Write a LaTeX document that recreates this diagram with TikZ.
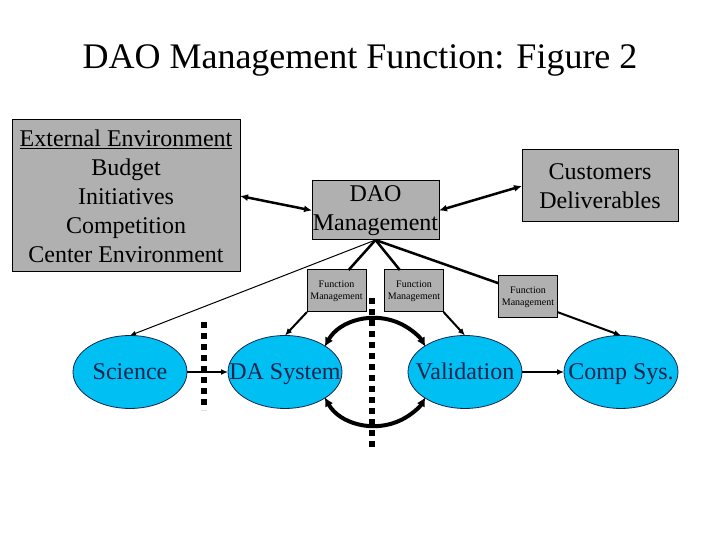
\documentclass[tikz,border=0pt]{standalone}
\usepackage{fontspec}
\setmainfont{Liberation Serif}
\usetikzlibrary{arrows.meta,calc,shapes.geometric}
\definecolor{boxgray}{HTML}{B0B0B0}
\definecolor{ellcyan}{HTML}{00BFF3}
\definecolor{elltext}{HTML}{17244E}
\begin{document}
\begin{tikzpicture}[x=1pt,y=1pt,
 graybox/.style={draw=black, line width=1pt, fill=boxgray, inner sep=0pt, outer sep=0pt, align=center, font=\fontsize{24}{29}\selectfont},
 fmbox/.style={graybox, font=\fontsize{10}{12}\selectfont, minimum width=59pt, minimum height=42pt},
 ellnode/.style={ellipse, draw=elltext, line width=0.8pt, fill=ellcyan, minimum width=114pt, minimum height=73pt, inner sep=0pt, outer sep=0pt},
 elltxt/.style={text=elltext, font=\fontsize{24}{29}\selectfont, inner sep=0pt, text height=20pt, text depth=4pt},
 fanline/.style={line width=2.5pt},
 arr/.style={line width=2pt, -{Latex[length=7pt,width=6pt]}},
 thinarr/.style={line width=1pt, -{Latex[length=6pt,width=5pt]}},
 dblarr/.style={line width=2.5pt, {Latex[length=8pt,width=7pt]}-{Latex[length=8pt,width=7pt]}},
 cycarr/.style={line width=4pt, {Latex[length=9pt,width=9pt]}-{Latex[length=9pt,width=9pt]}},
 dotline/.style={line width=5.5pt, dash pattern=on 6pt off 5pt}]

\useasboundingbox (0,0) rectangle (720,540);

\node[anchor=base, font=\fontsize{36}{40}\selectfont] (title) at (360,471) {DAO Management Function: Figure 2};

\node[graybox, minimum width=228pt, minimum height=152pt] (ext) at (126,344)
  {\underline{External Environment}\\Budget\\Initiatives\\Competition\\Center Environment};
\node[graybox, minimum width=127pt, minimum height=59pt] (dao) at (375.5,329.5) {DAO\\Management};
\node[graybox, minimum width=156pt, minimum height=72pt] (cust) at (600,354) {Customers\\Deliverables};

\node[fmbox] (fm1) at (336.5,249) {Function\\Management};
\node[fmbox] (fm2) at (414,249) {Function\\Management};
\node[fmbox] (fm3) at (528,243) {Function\\Management};

\node[ellnode, label={[elltxt]center:Science}] (sci) at (130,168) {};
\node[ellnode, label={[elltxt]center:DA System}] (das) at (285,168) {};
\node[ellnode, label={[elltxt]center:Validation}] (val) at (465,168) {};
\node[ellnode, label={[elltxt]center:Comp Sys.}] (comp) at (621,168) {};

\draw[dblarr] (ext.east) -- (dao.west);
\draw[dblarr] (dao.east) -- (cust.west);

\draw[fanline] (dao.south) -- (fm1.60);
\draw[fanline] (dao.south) -- (fm2.124);
\draw[fanline] (dao.south) -- (fm3.155);
\draw[thinarr] (dao.south) -- (sci.north);

\draw[arr] (fm1.south west) -- (das.north);
\draw[arr] (fm2.south east) -- (val.north);
\coordinate (fm3out) at ($(fm3.south east)!0.14!(fm3.north east)$);
\draw[arr] (fm3out) -- (comp.north);

\draw[arr] (sci.east) -- (das.west);
\draw[arr] (val.east) -- (comp.west);

\coordinate (cyc) at ($(das)!0.5!(val)$);
\draw[cycarr] ($(cyc)+(152:57pt and 54pt)$) arc[start angle=152, end angle=28, x radius=57pt, y radius=54pt];
\draw[cycarr] ($(cyc)+(208:57pt and 54pt)$) arc[start angle=208, end angle=332, x radius=57pt, y radius=54pt];

\coordinate (d1a) at (204,218);
\coordinate (d1b) at (204,130);
\coordinate (d2a) at (372,242);
\coordinate (d2b) at (372,93);
\draw[dotline] (d1a) -- (d1b);
\draw[dotline] (d2a) -- (d2b);
\end{tikzpicture}
\end{document}
